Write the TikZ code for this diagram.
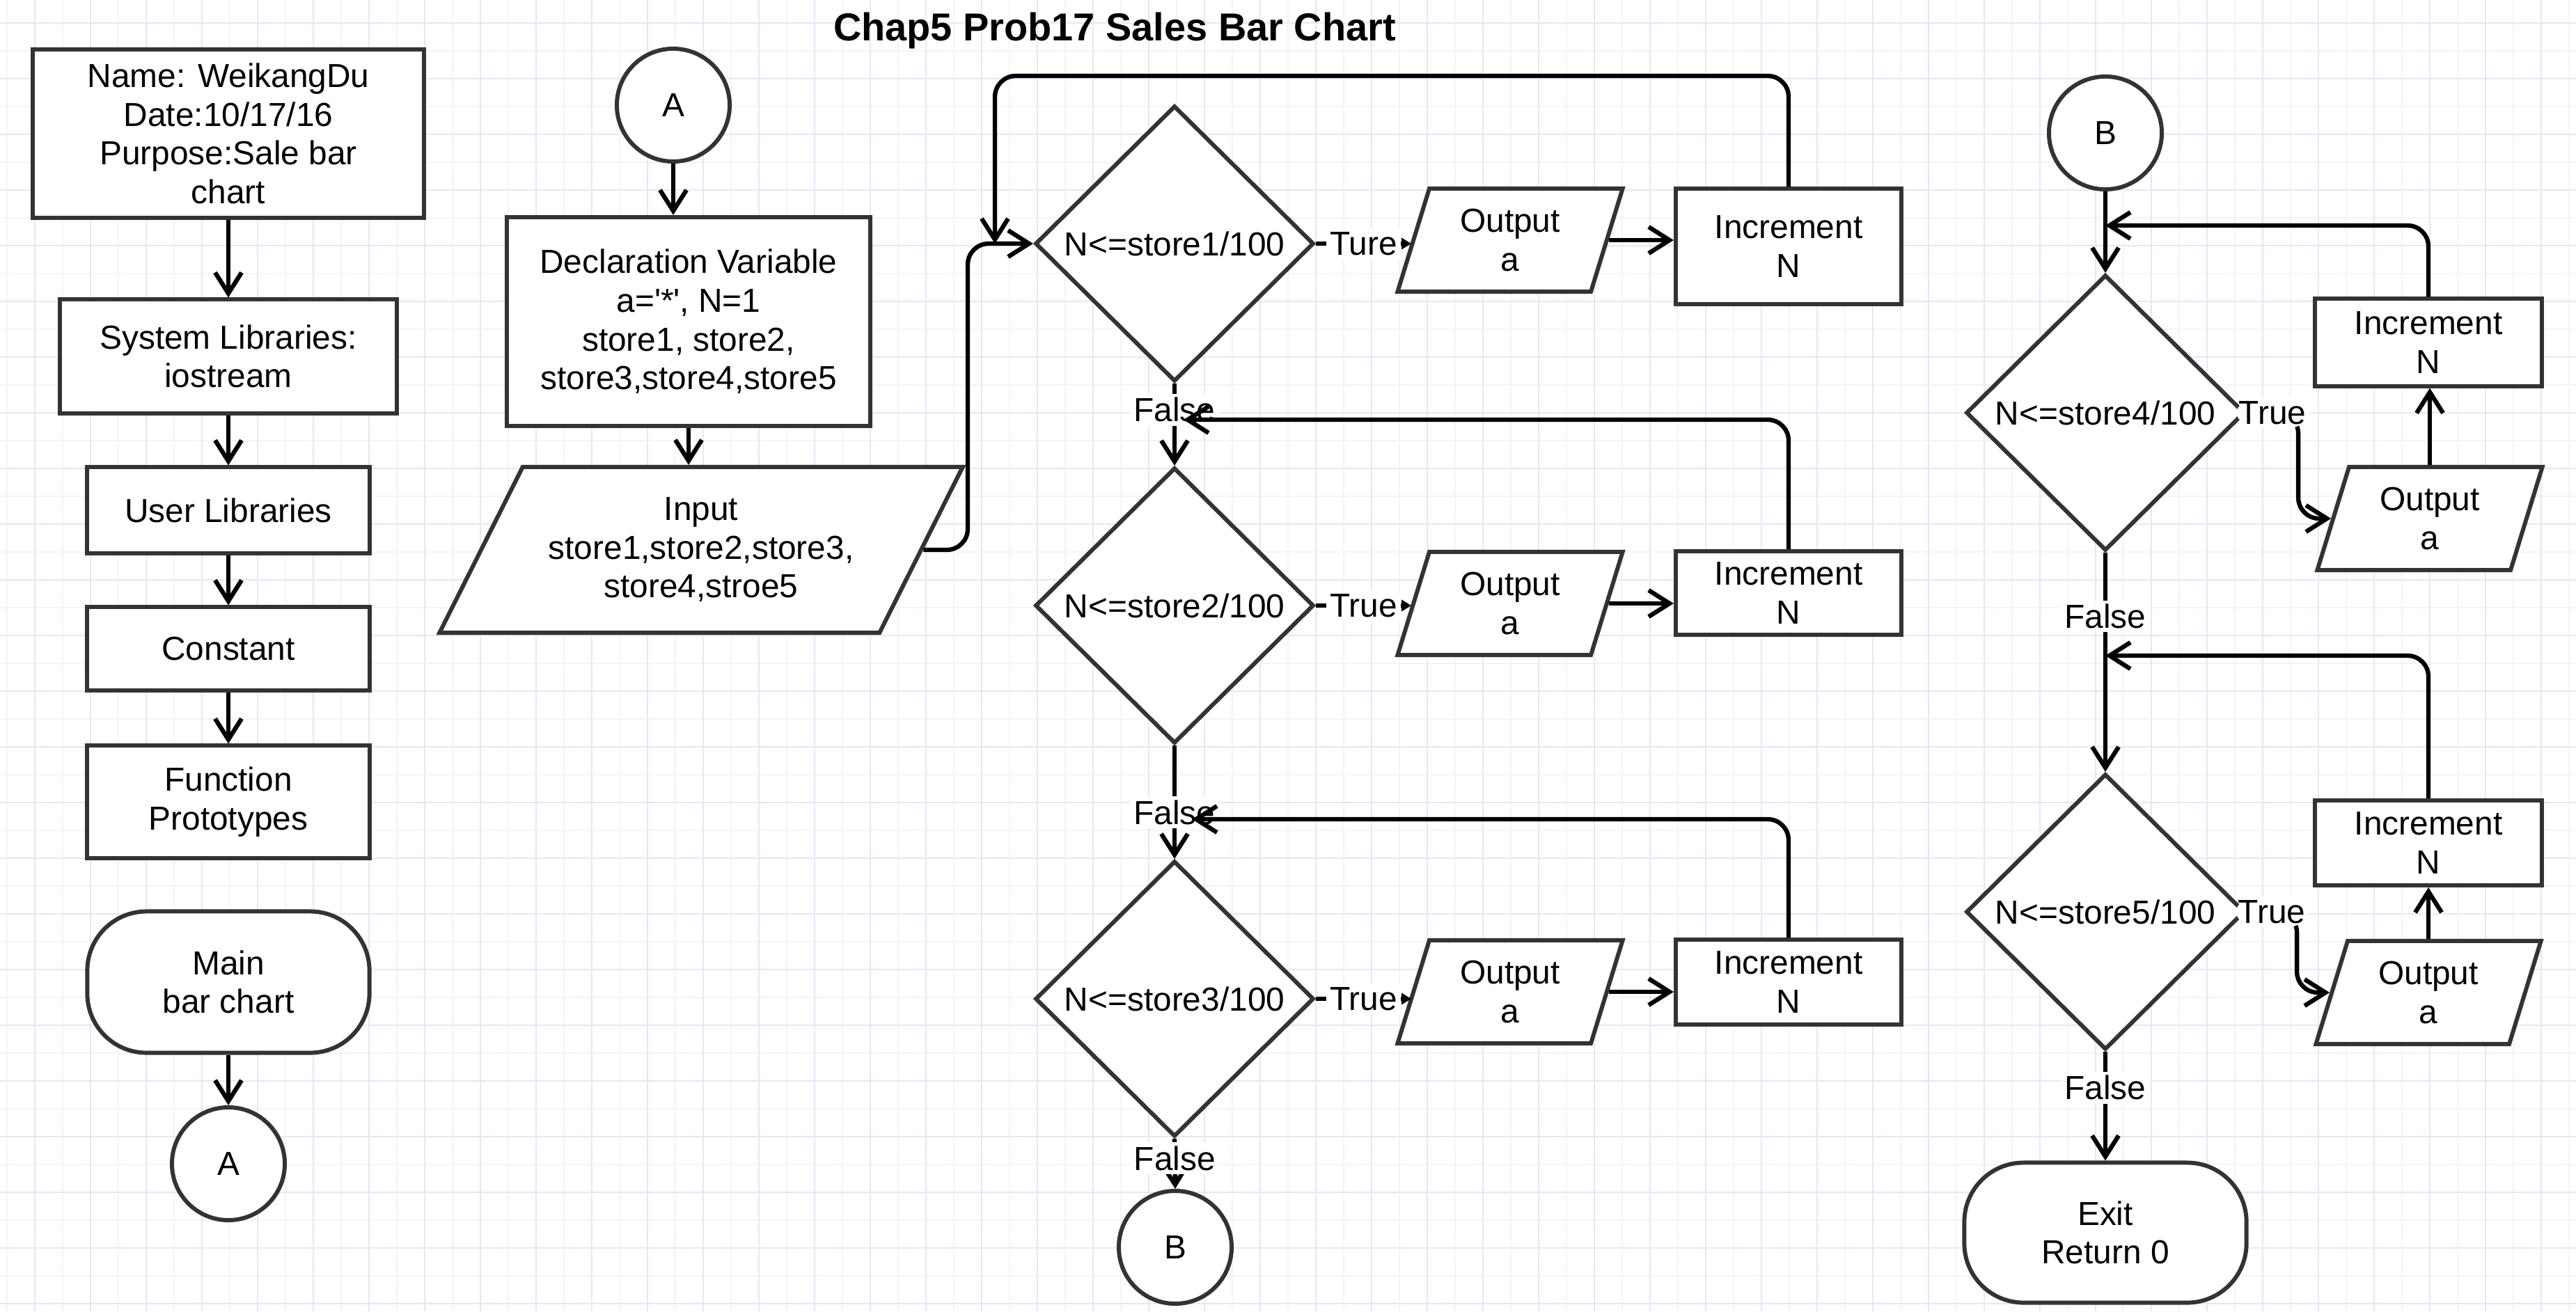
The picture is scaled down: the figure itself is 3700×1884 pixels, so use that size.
\documentclass[tikz,border=0pt]{standalone}
\usepackage{fontspec}
\setmainfont{Liberation Sans}
\usetikzlibrary{shapes.geometric,arrows.meta}
\definecolor{gridmajor}{RGB}{231,229,251}
\definecolor{gridminor}{RGB}{243,242,253}
\definecolor{edge}{RGB}{51,51,51}
\tikzset{
  box/.style={draw=edge, line width=1.7pt, fill=white, align=center, inner sep=0pt,
    font=\fontsize{13.6}{15.8}\selectfont},
  procbox/.style={box, rectangle},
  term/.style={box, rectangle, rounded corners=0.85cm},
  conn/.style={box, circle, minimum size=1.62cm},
  decision/.style={box, diamond, minimum width=4cm, minimum height=3.96cm},
  io/.style={box, trapezium, trapezium left angle=63, trapezium right angle=117,
    trapezium stretches body, minimum width=3.23cm, minimum height=1.48cm},
  flow/.style={line width=1.8pt, -{Straight Barb[length=0.3cm,width=0.38cm]}},
  yes/.style={line width=1.8pt, -{Triangle[length=0.14cm,width=0.16cm]}},
  lab/.style={fill=white, inner sep=1.5pt, font=\fontsize{13.6}{15.8}\selectfont},
}
\begin{document}
\begin{tikzpicture}[x=0.01cm, y=-0.01cm]
    \useasboundingbox (0,0) rectangle (3700,1884);
    \fill[white] (0,0) rectangle (3700,1884);
    % squared paper
    \foreach \gx in {10,90,...,3690} \draw[gridminor, line width=0.8pt] (\gx,0) -- (\gx,1884);
    \foreach \gy in {73,153,...,1833} \draw[gridminor, line width=0.8pt] (0,\gy) -- (3700,\gy);
    \foreach \gx in {50,130,...,3650} \draw[gridmajor, line width=0.8pt] (\gx,0) -- (\gx,1884);
    \foreach \gy in {33,113,...,1873} \draw[gridmajor, line width=0.8pt] (0,\gy) -- (3700,\gy);

    \node[font=\fontsize{15.9}{19}\selectfont\bfseries] (title) at (1601,44) {Chap5 Prob17 Sales Bar Chart};

    % header column
    \node[procbox, minimum width=5.62cm, minimum height=2.42cm] (info) at (328,192) {Name: WeikangDu\\Date:10/17/16\\Purpose:Sale bar\\chart};
    \node[procbox, minimum width=4.83cm, minimum height=1.63cm] (syslib) at (328,512) {System Libraries:\\iostream};
    \node[procbox, minimum width=4.05cm, minimum height=1.23cm] (userlib) at (328,733) {User Libraries};
    \node[procbox, minimum width=4.05cm, minimum height=1.19cm] (const) at (328,932) {Constant};
    \node[procbox, minimum width=4.05cm, minimum height=1.61cm] (proto) at (328,1152) {Function\\Prototypes};
    \node[term, minimum width=4.05cm, minimum height=2.03cm] (main) at (328,1411) {Main\\bar chart};
    \node[conn] (conA) at (328,1672) {A};
    \draw[flow] (info) -- (syslib);
    \draw[flow] (syslib) -- (userlib);
    \draw[flow] (userlib) -- (const);
    \draw[flow] (const) -- (proto);
    \draw[flow] (main) -- (conA);

    % input part
    \node[conn] (startA) at (967,151) {A};
    \node[procbox, minimum width=5.22cm, minimum height=3.0cm] (decl) at (989,462) {Declaration Variable\\a=\textquotesingle*\textquotesingle, N=1\\store1, store2,\\store3,store4,store5};
    \node[io, trapezium left angle=51.5, trapezium right angle=128.5, minimum width=7.51cm, minimum height=2.38cm] (input) at (1007,790) {Input\\store1,store2,store3,\\store4,stroe5};
    \draw[flow] (startA) -- (startA |- decl.north);
    \draw[flow] (decl.south) -- (decl.south |- input.north);

    % stores 1 to 3
    \node[decision] (test1) at (1687,350) {N<=store1/100};
    \node[decision] (test2) at (1687,870) {N<=store2/100};
    \node[decision] (test3) at (1687,1435) {N<=store3/100};
    \node[conn] (endB) at (1688,1792) {B};
    \node[io] (out1) at (2169,345) {Output\\a};
    \node[io] (out2) at (2169,867) {Output\\a};
    \node[io] (out3) at (2169,1425) {Output\\a};
    \node[procbox, minimum width=3.24cm, minimum height=1.65cm] (inc1) at (2569,354) {Increment\\N};
    \node[procbox, minimum width=3.24cm, minimum height=1.2cm] (inc2) at (2569,852) {Increment\\N};
    \node[procbox, minimum width=3.24cm, minimum height=1.22cm] (inc3) at (2569,1411) {Increment\\N};
    \coordinate (j1) at (1390,790);
    \coordinate (top1) at (1429,109);
    \coordinate (m1) at (1429,350);
    \coordinate (m2) at (1700,603);
    \coordinate (m3) at (1712,1177);

    \draw[flow, rounded corners=0.3cm] (input.east) -- (j1) |- (test1.west);
    \draw[flow, rounded corners=0.3cm] (inc1.north) |- (top1) -- (m1);
    \draw[yes] (test1.east) -- node[lab] {Ture} (test1.east -| out1.west);
    \draw[flow] (out1.east) -- (out1.east -| inc1.west);
    \draw[flow] (test1.south) -- node[lab, pos=0.32] {False} (test2.north);
    \draw[flow, rounded corners=0.3cm] (inc2.north) |- (m2);
    \draw[yes] (test2.east) -- node[lab] {True} (test2.east -| out2.west);
    \draw[flow] (out2.east) -- (out2.east -| inc2.west);
    \draw[flow] (test2.south) -- node[lab, pos=0.59] {False} (test3.north);
    \draw[flow, rounded corners=0.3cm] (inc3.north) |- (m3);
    \draw[yes] (test3.east) -- node[lab] {True} (test3.east -| out3.west);
    \draw[flow] (out3.east) -- (out3.east -| inc3.west);
    \draw[flow] (test3.south) -- node[lab, pos=0.39] {False} (endB.north);

    % stores 4 and 5
    \node[conn] (startB) at (3024,191) {B};
    \node[decision] (test4) at (3024,593) {N<=store4/100};
    \node[decision] (test5) at (3024,1310) {N<=store5/100};
    \node[io] (out4) at (3490,745) {Output\\a};
    \node[io] (out5) at (3488,1426) {Output\\a};
    \node[procbox, minimum width=3.25cm, minimum height=1.25cm] (inc4) at (3488,492) {Increment\\N};
    \node[procbox, minimum width=3.25cm, minimum height=1.22cm] (inc5) at (3488,1211) {Increment\\N};
    \node[term, minimum width=4.05cm, minimum height=2.01cm] (exit) at (3024,1771) {Exit\\Return 0};
    \coordinate (m4) at (3024,324);
    \coordinate (m5) at (3024,942);

    \draw[flow] (startB) -- (test4);
    \draw[flow, rounded corners=0.3cm] (inc4.north) |- (m4);
    \draw[flow, rounded corners=0.3cm] (test4.east) -- node[lab] {True} ++(74,0) |- (out4.west);
    \draw[flow] (out4.north) -- (out4.north |- inc4.south);
    \draw[flow] (test4.south) -- node[lab, pos=0.29] {False} (test5.north);
    \draw[flow, rounded corners=0.3cm] (inc5.north) |- (m5);
    \draw[flow, rounded corners=0.3cm] (test5.east) -- node[lab] {True} ++(72,0) |- (out5.west);
    \draw[flow] (out5.north) -- (out5.north |- inc5.south);
    \draw[flow] (test5.south) -- node[lab, pos=0.33] {False} (exit.north);
\end{tikzpicture}
\end{document}
